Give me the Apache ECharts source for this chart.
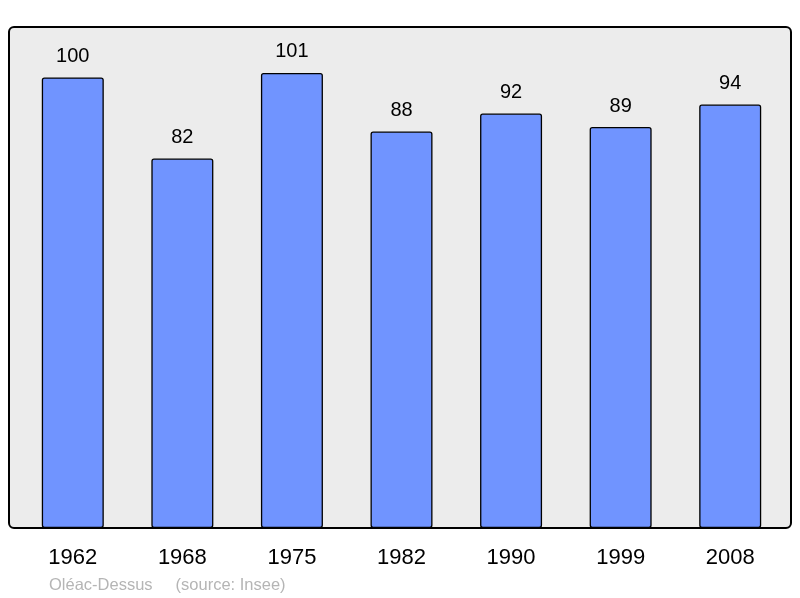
<!DOCTYPE html>
<html>
<head>
<meta charset="utf-8">
<script src="https://cdn.jsdelivr.net/npm/echarts@6/dist/echarts.min.js"></script>
<style>
html,body{margin:0;padding:0;background:#fff;}
#chart{width:800px;height:598px;}
</style>
</head>
<body>
<div id="chart"></div>
<script>
const categories = ['1962', '1968', '1975', '1982', '1990', '1999', '2008'];
const population = [100, 82, 101, 88, 92, 89, 94];
const footerText = 'Oléac-Dessus     (source: Insee)';

const chart = echarts.init(document.getElementById('chart'));
chart.setOption({
  animation: false,
  backgroundColor: '#ffffff',
  textStyle: { fontFamily: 'Liberation Sans, Arial, sans-serif' },
  title: {
    text: footerText,
    left: 49,
    top: 577,
    padding: 0,
    textStyle: { color: '#b5b5b5', fontSize: 16.5, fontWeight: 'normal', fontFamily: 'Liberation Sans, Arial, sans-serif' }
  },
  graphic: [{
    type: 'rect',
    z: -10,
    shape: { x: 9, y: 27, width: 782, height: 501, r: 5 },
    style: { fill: '#ececec', stroke: '#000000', lineWidth: 2 }
  }],
  grid: { left: 18, right: 15, top: 27, bottom: 70 },
  xAxis: {
    type: 'category',
    data: categories,
    axisLine: { show: false },
    axisTick: { show: false },
    axisLabel: { color: '#000', fontSize: 22, margin: 19, fontFamily: 'Liberation Sans, Arial, sans-serif' }
  },
  yAxis: {
    type: 'value',
    min: 0,
    max: 111.2,
    show: false,
    splitLine: { show: false }
  },
  series: [{
    type: 'bar',
    data: population,
    barWidth: 62,
    itemStyle: { color: '#7094ff', borderColor: '#000', borderWidth: 1.3, borderRadius: 2 },
    label: {
      show: true,
      position: 'top',
      distance: 11,
      color: '#000',
      fontSize: 20,
      fontFamily: 'Liberation Sans, Arial, sans-serif'
    }
  }]
});
</script>
</body>
</html>
